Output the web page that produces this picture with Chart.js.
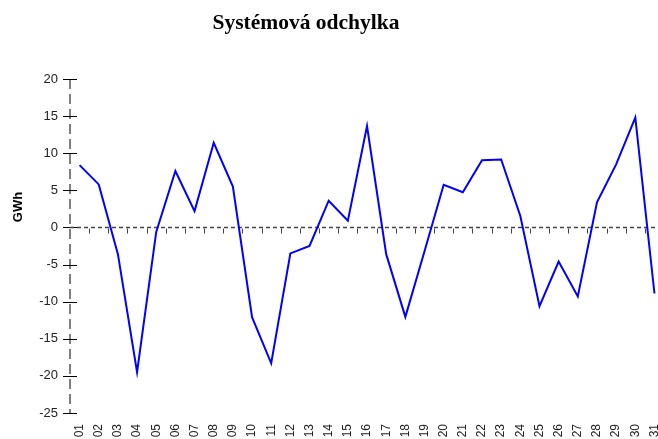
<!DOCTYPE html>
<html>
<head>
<meta charset="utf-8">
<script src="https://cdn.jsdelivr.net/npm/chart.js@4/dist/chart.umd.min.js"></script>
<style>
  html, body { margin: 0; padding: 0; overflow: hidden; background: #fff; }
  #wrap { width: 680px; height: 439px; }
</style>
</head>
<body>
<div id="wrap"><canvas id="myChart" width="680" height="439"></canvas></div>
<script>
var days = ['01','02','03','04','05','06','07','08','09','10','11','12','13','14','15','16',
            '17','18','19','20','21','22','23','24','25','26','27','28','29','30','31'];

var deviation = [8.4, 5.8, -3.6, -19.5, -0.6, 7.6, 2.2, 11.4, 5.5, -12.1, -18.3, -3.5, -2.5, 3.6, 0.9, 13.65,
                 -3.6, -12.05, -3.2, 5.75, 4.75, 9.05, 9.15, 1.55, -10.6, -4.6, -9.3, 3.4, 8.5, 14.8, -8.9];

var yTicks = [20, 15, 10, 5, 0, -5, -10, -15, -20, -25];

var titleText = 'Systémová odchylka';
var unitText = 'GWh';

// axis line, tick crosses, zero line and title drawn by hand
var decorations = {
	id: 'decorations',
	beforeDatasetsDraw: function (chart) {
		var ctx = chart.ctx,
				x = chart.scales.x,
				y = chart.scales.y,
				area = chart.chartArea;

		ctx.save();

		// dashed vertical axis
		ctx.strokeStyle = '#808080';
		ctx.lineWidth = 2;
		ctx.setLineDash([10, 5]);
		ctx.beginPath();
		ctx.moveTo(area.left, y.getPixelForValue(20));
		ctx.lineTo(area.left, y.getPixelForValue(-25));
		ctx.stroke();

		// tick crosses on the axis
		ctx.setLineDash([]);
		ctx.strokeStyle = '#000';
		ctx.lineWidth = 1;
		yTicks.forEach(function (v) {
			var py = Math.round(y.getPixelForValue(v)) + 0.5;
			ctx.beginPath();
			ctx.moveTo(area.left - 7, py);
			ctx.lineTo(area.left + 7, py);
			ctx.stroke();
		});

		// zero line
		var zy = Math.round(y.getPixelForValue(0)) + 0.5;
		ctx.strokeStyle = '#444';
		ctx.lineWidth = 1.3;
		ctx.setLineDash([4, 3]);
		ctx.beginPath();
		ctx.moveTo(area.left, zy);
		ctx.lineTo(area.right, zy);
		ctx.stroke();

		// small ticks below zero line between days
		ctx.setLineDash([]);
		ctx.strokeStyle = '#444';
		ctx.lineWidth = 1;
		for (var i = 0; i < days.length - 1; i++) {
			var px = Math.round((x.getPixelForValue(i) + x.getPixelForValue(i + 1)) / 2) + 0.5;
			ctx.beginPath();
			ctx.moveTo(px, zy + 1);
			ctx.lineTo(px, zy + 6);
			ctx.stroke();
		}
		ctx.restore();
	},
	afterDraw: function (chart) {
		var ctx = chart.ctx;
		ctx.save();
		ctx.fillStyle = '#000';
		ctx.textAlign = 'center';
		ctx.textBaseline = 'alphabetic';
		ctx.font = 'bold 21.5px "Liberation Serif"';
		ctx.fillText(titleText, 306, 29);

		ctx.translate(22, 207);
		ctx.rotate(-Math.PI / 2);
		ctx.font = 'bold 13px "Liberation Sans"';
		ctx.fillText(unitText, 0, 0);
		ctx.restore();
	}
};

var ctx = document.getElementById('myChart');

window.myLineChart = new Chart(ctx, {
	type: 'line',
	data: {
		labels: days,
		datasets: [{
			label: titleText,
			data: deviation,
			borderColor: '#0000ff',
			backgroundColor: '#0000ff',
			borderWidth: 2,
			pointRadius: 0,
			lineTension: 0,
			fill: false
		}]
	},
	options: {
		responsive: false,
		animation: false,
		devicePixelRatio: 1,
		layout: { padding: { top: 79, right: 8, bottom: 0, left: 0 } },
		plugins: {
			legend: { display: false },
			title: { display: false },
			tooltip: { enabled: false }
		},
		scales: {
			x: {
				offset: true,
				grid: { display: false, drawTicks: false },
				border: { display: false },
				ticks: {
					autoSkip: false,
					minRotation: 90,
					maxRotation: 90,
					padding: 11,
					color: '#222',
					font: { family: 'Liberation Sans', size: 12 }
				},
				afterFit: function (scale) { scale.height = 26; }
			},
			y: {
				min: -25,
				max: 20,
				grid: { display: false, drawTicks: false },
				border: { display: false },
				ticks: {
					stepSize: 5,
					padding: 12,
					color: '#222',
					font: { family: 'Liberation Sans', size: 13 }
				},
				afterFit: function (scale) { scale.width = 70; }
			}
		}
	},
	plugins: [decorations]
});
</script>
</body>
</html>
